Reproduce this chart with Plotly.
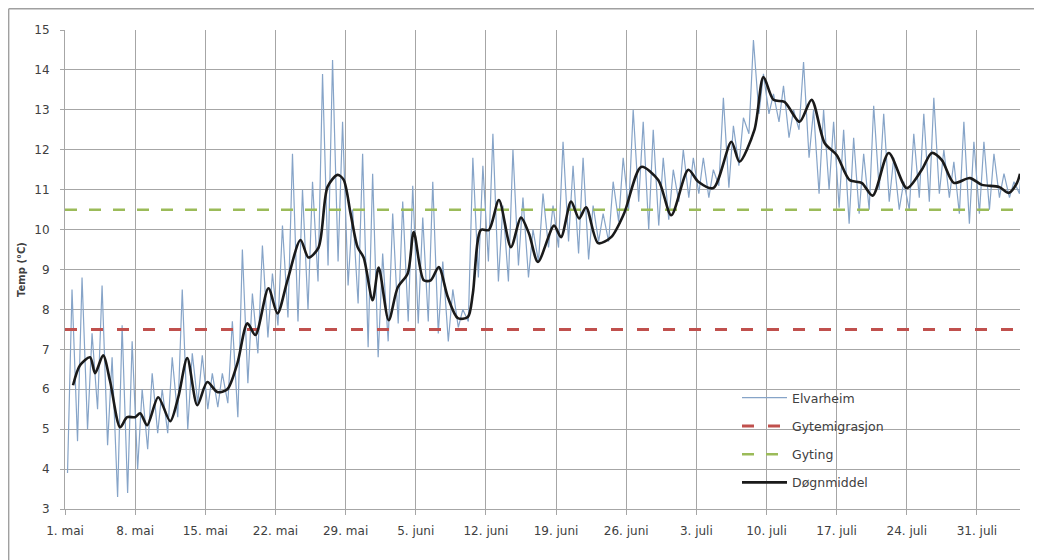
import plotly.graph_objects as go

# ---- data ----
tick_days = [0, 7, 14, 21, 28, 35, 42, 49, 56, 63, 70, 77, 84, 91]
tick_labels = ["1. mai", "8. mai", "15. mai", "22. mai", "29. mai", "5. juni", "12. juni",
               "19. juni", "26. juni", "3. juli", "10. juli", "17. juli", "24. juli", "31. juli"]

# Elvarheim: daily minimum and maximum temperatures (day 0 = 1. mai)
elv_min = [3.9, 4.7, 5.0, 5.5, 4.6, 3.3, 3.4, 4.0, 4.5, 4.9,
           4.9, 5.3, 5.0, 5.65, 5.5, 5.55, 5.65, 5.3, 6.15, 6.9,
           7.3, 7.6, 7.8, 7.7, 8.0, 8.7, 9.1, 9.2, 8.6, 8.15,
           7.05, 6.8, 7.2, 7.65, 7.7, 7.65, 7.7, 7.4, 7.2, 7.55,
           7.7, 8.8, 9.2, 8.7, 8.7, 9.1, 8.8, 9.2, 9.55, 9.55,
           9.7, 9.4, 9.25, 9.7, 9.7, 10.2, 10.5, 10.7, 10.0, 10.1,
           10.25, 10.7, 10.8, 10.9, 10.8, 11.1, 11.05, 11.6, 12.4, 12.9,
           12.9, 12.7, 12.3, 12.5, 11.8, 10.9, 11.0, 10.55, 10.15, 10.4,
           10.5, 11.0, 10.7, 10.5, 10.5, 10.8, 10.7, 10.9, 10.8, 10.4,
           10.15, 10.4, 10.5, 10.8, 10.8, 10.9]
elv_max = [8.5, 8.8, 7.4, 8.6, 6.8, 7.6, 7.2, 6.0, 6.4, 6.0,
           6.8, 8.5, 6.9, 6.85, 6.4, 6.4, 7.7, 9.5, 8.4, 9.6,
           8.9, 10.1, 11.9, 11.0, 11.2, 13.9, 14.25, 12.7, 10.5, 11.9,
           11.4, 9.4, 10.4, 10.7, 11.1, 10.3, 11.2, 9.2, 8.5, 8.0,
           11.8, 11.6, 12.4, 10.6, 12.0, 10.8, 10.0, 10.9, 10.6, 12.2,
           11.6, 11.8, 10.6, 10.4, 11.2, 11.8, 13.0, 12.7, 12.5, 11.8,
           11.5, 12.0, 11.8, 11.8, 11.5, 13.3, 12.6, 12.8, 14.75, 13.9,
           13.4, 13.6, 13.0, 14.2, 13.0, 13.0, 12.7, 12.5, 12.3, 11.9,
           13.1, 12.9, 11.8, 11.2, 12.4, 12.9, 13.3, 12.0, 11.7, 12.7,
           12.2, 12.2, 11.9, 11.4, 11.2, 12.4]

# Døgnmiddel (day offset, temperature)
mean_day = [0.8, 1.5, 2.5, 3.0, 3.8, 4.5, 5.5, 6.2, 7.0, 7.5, 8.2, 9.3, 10.5, 11.3, 12.2,
            13.2, 14.2, 15.2, 16.2, 17.2, 18.2, 19.0, 20.3, 21.2, 22.2, 23.5, 24.3, 25.3,
            26.2, 27.2, 27.8, 28.5, 29.2, 29.8, 30.7, 31.3, 32.3, 33.2, 34.2, 34.8, 35.8,
            36.5, 37.3, 38.2, 39.2, 40.2, 40.7, 41.5, 42.3, 43.3, 44.5, 45.5, 46.3, 47.2,
            48.8, 49.5, 50.5, 51.3, 52.0, 53.2, 54.5, 55.8, 57.5, 59.2, 60.5, 62.2, 63.2,
            64.7, 66.5, 67.3, 68.8, 69.7, 70.7, 71.8, 73.3, 74.5, 75.8, 77.0, 78.3, 79.5,
            80.6, 82.2, 84.0, 85.5, 86.5, 87.5, 88.7, 90.3, 91.5, 93.2, 94.2, 95.0, 95.3]
mean_val = [6.1, 6.6, 6.8, 6.4, 6.85, 6.2, 5.05, 5.3, 5.3, 5.4, 5.1, 5.8, 5.2, 5.8, 6.78,
            5.6, 6.18, 5.93, 6.0, 6.65, 7.65, 7.36, 8.53, 7.9, 8.73, 9.74, 9.3, 9.55,
            11.07, 11.37, 11.25, 10.4, 9.56, 9.3, 8.23, 9.05, 7.73, 8.55, 8.9, 9.94, 8.73,
            8.73, 9.06, 8.31, 7.78, 7.81, 8.4, 9.99, 9.99, 10.74, 9.56, 10.3, 9.9, 9.19,
            10.1, 9.81, 10.7, 10.28, 10.56, 9.66, 9.81, 10.41, 11.57, 11.24, 10.36, 11.5, 11.2,
            11.04, 12.2, 11.7, 12.5, 13.82, 13.25, 13.2, 12.7, 13.25, 12.17, 11.87, 11.24, 11.17,
            10.85, 11.92, 11.04, 11.5, 11.92, 11.74, 11.17, 11.29, 11.12, 11.07, 10.92, 11.17, 11.4]

gytemigrasjon = 7.5
gyting = 10.5
period = [0, 95.3]

# ---- build the Elvarheim series from daily min/max ----
elv_x, elv_y = [], []
for d, (lo, hi) in enumerate(zip(elv_min, elv_max)):
    elv_x += [d + 0.25, d + 0.7]
    elv_y += [lo, hi]

FONT = "DejaVu Sans"
TXT = "#404040"
grid = "#a6a6a6"

# page body has an 8px margin: plot area on screen spans x 65..1020, y 30..509
ML, MT = 57, 22
PW, PH = 955, 479
W, H = 1042, 560


def px_x(sx):  # screen px -> paper x
    return (sx - 8 - ML) / PW


def px_y(sy):  # screen px -> paper y
    return (MT + PH - (sy - 8)) / PH


fig = go.Figure()
fig.add_trace(go.Scatter(x=elv_x, y=elv_y, mode="lines", name="Elvarheim",
                         line=dict(color="#86a4c8", width=1.2), legendgroup="a"))
fig.add_trace(go.Scatter(x=period, y=[gytemigrasjon] * 2, mode="lines", name="Gytemigrasjon",
                         line=dict(color="#c0504d", width=3, dash="12px,14px"), legendgroup="b"))
fig.add_trace(go.Scatter(x=period, y=[gyting] * 2, mode="lines", name="Gyting",
                         line=dict(color="#9bbb59", width=2.5, dash="12px,12px"), legendgroup="c"))
fig.add_trace(go.Scatter(x=mean_day, y=mean_val, mode="lines", name="Døgnmiddel",
                         line=dict(color="#1a1a1a", width=2.6, shape="spline", smoothing=0.8),
                         legendgroup="d"))

fig.update_layout(
    width=W, height=H,
    margin=dict(l=ML, r=W - ML - PW, t=MT, b=H - MT - PH),
    paper_bgcolor="white", plot_bgcolor="white",
    font=dict(family=FONT, size=12, color=TXT),
    showlegend=True,
    legend=dict(x=px_x(737), y=px_y(383), xanchor="left", yanchor="top",
                bgcolor="rgba(255,255,255,0)", borderwidth=0, itemwidth=45,
                font=dict(family=FONT, size=12.5, color=TXT),
                traceorder="grouped", tracegroupgap=9),
    xaxis=dict(range=period, tickvals=tick_days, ticktext=tick_labels,
               showgrid=True, gridcolor=grid, gridwidth=1,
               showline=True, linecolor=grid, linewidth=1,
               ticks="outside", ticklen=5, tickcolor=grid,
               ticklabelstandoff=6, zeroline=False,
               tickfont=dict(family=FONT, size=12, color=TXT)),
    yaxis=dict(range=[3, 15], dtick=1, tick0=3,
               showgrid=True, gridcolor=grid, gridwidth=1,
               showline=True, linecolor=grid, linewidth=1,
               ticks="outside", ticklen=4, tickcolor=grid, zeroline=False,
               ticklabelstandoff=8,
               tickfont=dict(family=FONT, size=12, color=TXT),
               title=dict(text="<b>Temp (°C)</b>", standoff=6,
                          font=dict(family=FONT, size=10, color=TXT))),
    shapes=[
        # white legend box hiding gridlines
        dict(type="rect", xref="paper", yref="paper", layer="between",
             x0=px_x(735), x1=px_x(893), y0=px_y(500), y1=px_y(381),
             fillcolor="white", line=dict(width=0)),
        # chart-area frame (top & left visible)
        dict(type="line", xref="paper", yref="paper",
             x0=px_x(8.7), x1=px_x(1060), y0=px_y(8.7), y1=px_y(8.7),
             line=dict(color="#a0a0a0", width=1.4)),
        dict(type="line", xref="paper", yref="paper",
             x0=px_x(8.7), x1=px_x(8.7), y0=px_y(8.7), y1=px_y(580),
             line=dict(color="#a0a0a0", width=1.4)),
    ],
)

fig.write_html("out.html")
